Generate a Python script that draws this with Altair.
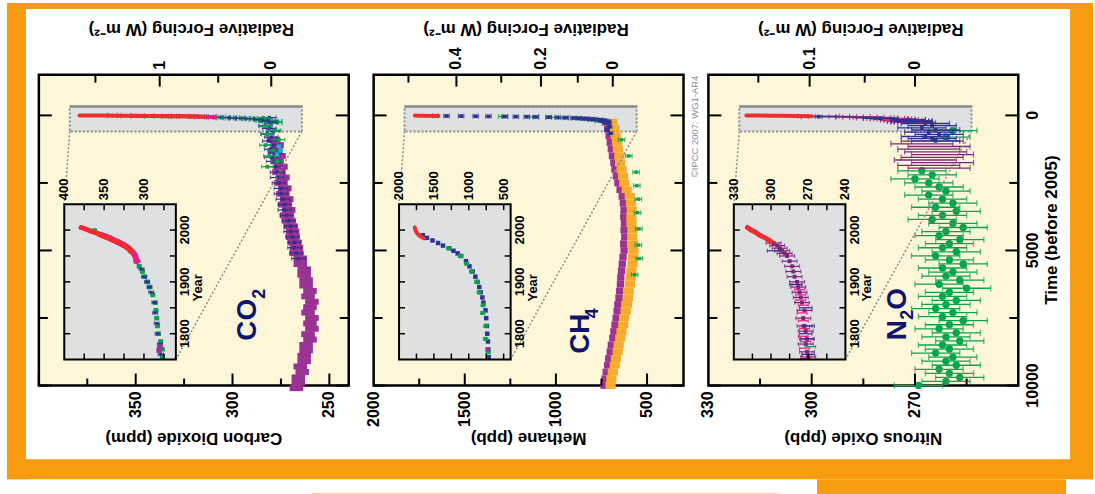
import altair as alt
import pandas as pd

# ------------------------------------------------------------------
# Values (time in years before 2005, or year AD)
# ------------------------------------------------------------------
# ---- CO2 (ppm) ----
co2_domec_t = [900, 1100, 1300, 1500, 1700, 1900, 2100, 2300, 2500, 2700, 2900, 3100, 3300, 3500, 3700,
               3900, 4100, 4300, 4500, 4700, 4900, 5100, 5300, 5500, 5700, 5900, 6100, 6300, 6500, 6700,
               6900, 7100, 7300, 7500, 7700, 7900, 8100, 8300, 8500, 8700, 8900, 9100, 9300, 9500, 9700,
               9900, 10100]
co2_domec_v = [279, 277, 278, 276, 277, 275, 276, 274, 275, 273, 274, 272, 273, 271, 272,
               271, 270, 269, 269, 268, 267, 267, 265, 265, 263, 263, 262, 262, 260, 261,
               259, 260, 261, 259, 260, 259, 261, 260, 262, 262, 263, 263, 265, 264, 266,
               266, 267]
co2_blue_t = [80, 180, 280, 380, 480, 580, 680, 800, 950, 1100, 1250, 1400, 1550, 1700, 1900, 2100,
              2300, 2500, 2700, 2900, 3100, 3300, 3500, 3700, 3900, 4100, 4300, 4500, 4700, 4900, 5100, 5300]
co2_blue_v = [281, 283, 280, 283, 281, 279, 282, 280, 281, 279, 280, 278, 280, 279, 278, 277,
              277, 276, 275, 275, 274, 273, 273, 272, 271, 270, 270, 269, 268, 268, 267, 266]
co2_green_t = [100, 250, 400, 550, 700, 900, 1100, 1300, 1500, 1700, 1900]
co2_green_v = [284, 279, 283, 278, 282, 276, 283, 279, 281, 277, 282]
co2_cyan_t = [1150, 1300, 1450]
co2_cyan_v = [276, 275, 277]
co2_red_year = [1958, 1962, 1966, 1970, 1974, 1978, 1982, 1986, 1990, 1994, 1998, 2002, 2005]
co2_red_v = [315, 318, 321, 325, 330, 335, 341, 347, 354, 359, 367, 373, 379]
co2_pink_year = [1940, 1950, 1955, 1960, 1965, 1970, 1975, 1980, 1985, 1990]
co2_pink_v = [309, 311, 313, 316, 319, 324, 330, 337, 344, 352]
co2_grn_year = [1755, 1770, 1785, 1800, 1815, 1830, 1845, 1860, 1875, 1890, 1900, 1910, 1920, 1930,
                1940, 1950, 1960, 1970, 1978, 1985, 1992, 1999]
co2_grn_v = [277, 277, 279, 282, 283, 284, 285, 286, 289, 293, 296, 299, 302, 306, 310, 311, 317, 325, 334,
             343, 355, 362]
co2_blu_year = [1760, 1780, 1800, 1820, 1840, 1860, 1880, 1890, 1900, 1910, 1925, 1940, 1965, 1975]
co2_blu_v = [279, 280, 283, 284, 286, 287, 291, 293, 296, 300, 303, 308, 320, 331]
co2_pur_year = [1768, 1775]
co2_pur_v = [281, 280]

# ---- CH4 (ppb) ----
ch4_t = [250, 500, 750, 1000, 1250, 1500, 1750, 2000, 2250, 2500, 2750, 3000, 3250, 3500, 3750, 4000,
         4250, 4500, 4750, 5000, 5250, 5500, 5750, 6000, 6250, 6500, 6750, 7000, 7250, 7500, 7750, 8000,
         8250, 8500, 8750, 9000, 9250, 9500, 9750, 10000]
ch4_amber_v = [690, 678, 672, 665, 660, 652, 648, 640, 632, 625, 612, 595, 588, 584, 586, 585,
               580, 581, 577, 575, 576, 579, 586, 590, 594, 601, 604, 610, 617, 626, 631, 640,
               647, 656, 661, 671, 677, 688, 696, 700]
ch4_purple_v = [728, 716, 708, 702, 696, 690, 682, 676, 668, 660, 648, 636, 630, 626, 628, 624,
                626, 622, 628, 626, 632, 636, 640, 644, 646, 650, 654, 660, 664, 670, 676, 682,
                688, 696, 702, 710, 716, 724, 730, 736]
ch4_green_t = [900, 1500, 2100, 2600, 3100, 3600, 4200, 4800, 5300, 5900]
ch4_green_v = [640, 600, 560, 556, 548, 552, 545, 548, 543, 568]
ch4_blue_t = [300, 420, 540, 660]
ch4_blue_v = [712, 705, 718, 700]
ch4_red_year = [1984, 1988, 1992, 1996, 2000, 2005]
ch4_red_v = [1645, 1695, 1730, 1750, 1765, 1774]
ch4_blu_year = [1755, 1770, 1785, 1800, 1815, 1830, 1845, 1860, 1870, 1880, 1890, 1900, 1910, 1920,
                1930, 1940, 1950, 1955, 1960, 1965, 1970, 1975, 1980, 1985, 1990]
ch4_blu_v = [715, 720, 725, 735, 740, 750, 760, 790, 805, 830, 850, 875, 905, 945,
             990, 1040, 1110, 1160, 1220, 1280, 1370, 1440, 1520, 1600, 1660]
ch4_grn_year = [1765, 1790, 1815, 1840, 1855, 1880, 1900, 1920, 1935, 1950, 1965]
ch4_grn_v = [720, 760, 755, 800, 795, 850, 885, 960, 1030, 1120, 1290]
ch4_pur_year = [1770]
ch4_pur_v = [730]

# ---- N2O (ppb) ----
n2o_green_t = [2050, 2200, 2350, 2500, 2650, 2800, 2950, 3100, 3250, 3400, 3550, 3700, 3850, 4000,
               4150, 4300, 4450, 4600, 4750, 4900, 5050, 5200, 5350, 5500, 5650, 5800, 5950, 6100,
               6250, 6400, 6550, 6700, 6850, 7000, 7150, 7300, 7450, 7600, 7750, 7900, 8050, 8200,
               8350, 8500, 8650, 8800, 8950, 9100, 9250, 9400, 9550, 9700, 9850, 10000, 560, 800]
n2o_green_v = [268, 265, 270, 266, 263, 261, 266, 262, 259, 264, 258, 262, 265, 259,
               256, 261, 263, 257, 260, 262, 258, 264, 260, 256, 262, 259, 261, 257,
               263, 255, 260, 262, 258, 261, 264, 259, 262, 256, 260, 263, 258, 261,
               257, 262, 260, 264, 259, 261, 258, 263, 260, 257, 261, 269, 259, 261]
n2o_dpur_t = [950, 1050, 1150, 1250, 1350, 1450, 1550, 1650, 1750, 1850, 1950]
n2o_dpur_v = [265, 268, 263, 266, 264, 262, 265, 267, 262, 266, 263]
n2o_blue_t = [300, 380, 460, 540, 620, 700, 780, 860, 940]
n2o_blue_v = [267, 265, 268, 264, 266, 263, 267, 265, 264]
n2o_red_year = [1978, 1984, 1990, 1995, 2000, 2005]
n2o_red_v = [300, 304, 309, 312, 316, 319]
n2o_pur_year = [1755, 1765, 1780, 1790, 1805, 1815, 1830, 1845, 1860, 1870, 1880, 1890, 1900, 1910,
                1920, 1930, 1940, 1950, 1955, 1960, 1965, 1970, 1975]
n2o_pur_v = [270, 271, 272, 271, 272, 273, 274, 273, 275, 276, 277, 278, 279, 281,
             282, 283, 285, 287, 289, 291, 293, 295, 298]
n2o_pink_year = [1752, 1760, 1772, 1785, 1795, 1810, 1825, 1840, 1855, 1865, 1875, 1885, 1895]
n2o_pink_v = [272, 271, 273, 272, 274, 273, 274, 275, 274, 276, 276, 277, 279]
n2o_blu_year = [1760, 1790, 1800, 1815, 1850, 1895, 1960]
n2o_blu_v = [270, 271, 272, 270, 272, 280, 298]
n2o_grn_year = [1775]
n2o_grn_v = [268]

# ---- axes: ticks and labels ----
time_major = [0, 5000, 10000]
time_minor = [2500, 7500]
time_labels = ["0", "5000", "10000"]
year_ticks = [1800, 1850, 1900, 1950, 2000]
year_labels = [1800, 1900, 2000]

co2_labels = [250, 300, 350]
co2_major = [250, 300, 350, 400]
co2_minor = [275, 325, 375]
co2_rf_major_at = [280, 337.6]          # concentration where RF = 0, 1
co2_rf_major_lab = ["0", "1"]
co2_rf_minor_at = [307.4, 370.8]         # RF = 0.5, 1.5
co2_inset_ticks = [275, 300, 325, 350, 375]
co2_inset_labels = [300, 350, 400]

ch4_labels = [500, 1000, 1500, 2000]
ch4_major = [500, 1000, 1500]
ch4_minor = [750, 1250, 1750]
ch4_rf_major_at = [688, 1082, 1546]     # RF = 0, 0.2, 0.4
ch4_rf_major_lab = ["0", "0.2", "0.4"]
ch4_rf_minor_at = [880, 1300, 1809]     # RF = 0.1, 0.3, 0.5
ch4_inset_ticks = [500, 750, 1000, 1250, 1500, 1750]
ch4_inset_labels = [500, 1000, 1500, 2000]

n2o_labels = [270, 300, 330]
n2o_major = [270, 300]
n2o_minor = [255, 285, 315]
n2o_rf_major_at = [270, 300.6]          # RF = 0, 0.1
n2o_rf_major_lab = ["0", "0.1"]
n2o_rf_minor_at = [284.6, 315.5]        # RF = 0.05, 0.15
n2o_inset_ticks = [255, 270, 285, 300, 315]
n2o_inset_labels = [240, 270, 300, 330]

# ------------------------------------------------------------------
# Styling / layout
# ------------------------------------------------------------------
FONT = "Liberation Sans"
NARROW = "Liberation Sans Narrow, Liberation Sans, sans-serif"
ORANGE = "#F99B0E"
CREAM = "#FDF6D8"
BOXGRAY = "#DFE0E2"
NAVY = "#0F136A"
RED = "#EE2D2F"
PINK = "#EC1A8A"
GREEN = "#07A44E"
BLUE = "#2F3192"
PURPLE = "#9A3393"
DPURPLE = "#7A2877"
CYAN = "#25AAE1"
AMBER = "#F7AA2B"

W, H = 311, 312
SPACING = 25
T_DOMAIN = [-1510, 10000]
YEAR_DOMAIN = [1750, 2050]
IL, IR, IT, IB = 25.5, 137.5, 130, 286          # inset box inside panel (px)
BX1, BX2, BY1, BY2 = 31, 264, 32, 57            # highlighted period box (px)
ONE = pd.DataFrame({"k": [0]})


def recent(years, vals):
    d = pd.DataFrame({"year": years, "v": vals})
    d["t"] = 2005 - d["year"]
    return d


def holo(ts, vals):
    return pd.DataFrame({"t": ts, "v": vals})


def X(f, s):
    return alt.X(f"{f}:Q", scale=s, axis=None)


def Y(f, s):
    return alt.Y(f"{f}:Q", scale=s, axis=None)


def blocks(data, yf, hx, hy, color, xs, ys):
    return (alt.Chart(data)
            .transform_calculate(lo=f"datum.v - {hx}", hi=f"datum.v + {hx}",
                                 tlo=f"datum.{yf} - {hy}", thi=f"datum.{yf} + {hy}")
            .mark_rect(color=color)
            .encode(x=X("lo", xs), x2="hi:Q", y=Y("tlo", ys), y2="thi:Q"))


def errbars(data, yf, err, color, xs, ys, width=1.2, cap=5, shape=None, size=0):
    base = alt.Chart(data).transform_calculate(lo=f"datum.v - {err}", hi=f"datum.v + {err}")
    out = [
        base.mark_rule(color=color, strokeWidth=width).encode(x=X("lo", xs), x2="hi:Q", y=Y(yf, ys)),
        base.mark_tick(color=color, orient="vertical", size=cap, thickness=width).encode(x=X("lo", xs), y=Y(yf, ys)),
        base.mark_tick(color=color, orient="vertical", size=cap, thickness=width).encode(x=X("hi", xs), y=Y(yf, ys)),
    ]
    if shape:
        out.append(alt.Chart(data).mark_point(shape=shape, filled=True, size=size, color=color, opacity=1)
                   .encode(x=X("v", xs), y=Y(yf, ys)))
    return out


def points(data, yf, color, xs, ys, shape="square", size=14):
    return alt.Chart(data).mark_point(shape=shape, filled=True, size=size, color=color, opacity=1).encode(
        x=X("v", xs), y=Y(yf, ys))


def line(data, yf, color, width, xs, ys):
    return alt.Chart(data).mark_line(color=color, strokeWidth=width, strokeCap="round").encode(
        x=X("v", xs), y=Y(yf, ys), order=f"{yf}:Q")


def vrect(x1, x2, y1, y2, **mk):
    return alt.Chart(ONE).mark_rect(**mk).encode(
        x=alt.value(x1), x2=alt.value(x2), y=alt.value(y1), y2=alt.value(y2))


def seg(x1, y1, x2, y2, **mk):
    return alt.Chart(ONE).mark_rule(**mk).encode(
        x=alt.value(x1), x2=alt.value(x2), y=alt.value(y1), y2=alt.value(y2))


def label(s, x, y, size, angle=0, align="center", baseline="middle", color="black",
          weight="bold", font=FONT):
    return alt.Chart(pd.DataFrame({"s": [s]})).mark_text(
        angle=angle, align=align, baseline=baseline, color=color, fontSize=size,
        fontWeight=weight, font=font).encode(text="s:N", x=alt.value(x), y=alt.value(y))


def vticks(values, xs, y0, y1, width=2):
    return alt.Chart(pd.DataFrame({"v": values})).mark_rule(color="black", strokeWidth=width).encode(
        x=X("v", xs), y=alt.value(y0), y2=alt.value(y1))


def hticks(values, ys, x0, x1, width=2):
    return alt.Chart(pd.DataFrame({"t": values})).mark_rule(color="black", strokeWidth=width).encode(
        y=Y("t", ys), x=alt.value(x0), x2=alt.value(x1))


def xlabels(values, texts, xs, y, align, size, font=FONT):
    return alt.Chart(pd.DataFrame({"v": values, "s": texts})).mark_text(
        angle=270, align=align, baseline="middle", font=font, fontSize=size, fontWeight="bold",
        color="black").encode(x=X("v", xs), y=alt.value(y), text="s:N")


def ylabels(values, texts, field, ys, x, size, font=FONT):
    return alt.Chart(pd.DataFrame({field: values, "s": texts})).mark_text(
        angle=270, align="center", baseline="top", font=font, fontSize=size, fontWeight="bold",
        color="black").encode(y=Y(field, ys), x=alt.value(x), text="s:N")


# ------------------------------------------------------------------
# Panel series
# ------------------------------------------------------------------
def co2_main(xs, ys):
    L = [blocks(holo(co2_domec_t, co2_domec_v), "t", 3.5, 110, PURPLE, xs, ys)]
    L += errbars(holo(co2_blue_t, co2_blue_v), "t", 3.5, BLUE, xs, ys, cap=4, shape="square", size=12)
    L += errbars(holo(co2_green_t, co2_green_v), "t", 3, GREEN, xs, ys, cap=4, shape="square", size=14)
    L.append(points(holo(co2_cyan_t, co2_cyan_v), "t", CYAN, xs, ys, size=18))
    L += errbars(recent(co2_grn_year, co2_grn_v), "t", 2.5, GREEN, xs, ys, cap=6, shape="square", size=12)
    L += errbars(recent(co2_blu_year, co2_blu_v), "t", 2, BLUE, xs, ys, cap=5)
    L.append(line(recent(co2_pink_year, co2_pink_v), "t", PINK, 4, xs, ys))
    L.append(line(recent(co2_red_year, co2_red_v), "t", RED, 4, xs, ys))
    return L


def co2_inset(xs, ys):
    L = []
    L += errbars(recent(co2_grn_year, co2_grn_v), "year", 2.5, GREEN, xs, ys, cap=3, shape="square", size=22)
    L += errbars(recent(co2_blu_year, co2_blu_v), "year", 3, BLUE, xs, ys, cap=4, shape="square", size=8)
    L.append(points(recent(co2_pur_year, co2_pur_v), "year", PURPLE, xs, ys, size=30))
    L.append(line(recent(co2_pink_year, co2_pink_v), "year", PINK, 6, xs, ys))
    L.append(line(recent(co2_red_year, co2_red_v), "year", RED, 5, xs, ys))
    return L


def ch4_main(xs, ys):
    L = [blocks(holo(ch4_t, ch4_purple_v), "t", 20, 125, PURPLE, xs, ys),
         blocks(holo(ch4_t, ch4_amber_v), "t", 28, 125, AMBER, xs, ys)]
    L += errbars(holo(ch4_green_t, ch4_green_v), "t", 18, GREEN, xs, ys, cap=5, shape="square", size=12)
    L += errbars(holo(ch4_blue_t, ch4_blue_v), "t", 12, BLUE, xs, ys, cap=4, shape="square", size=12)
    L += errbars(recent(ch4_grn_year, ch4_grn_v), "t", 25, GREEN, xs, ys, cap=5, shape="square", size=12)
    L += errbars(recent(ch4_blu_year, ch4_blu_v), "t", 15, BLUE, xs, ys, cap=5, shape="square", size=14)
    L.append(line(recent(ch4_red_year, ch4_red_v), "t", RED, 4, xs, ys))
    return L


def ch4_inset(xs, ys):
    L = []
    L += errbars(recent(ch4_blu_year, ch4_blu_v), "year", 15, BLUE, xs, ys, cap=3, shape="square", size=20)
    L += errbars(recent(ch4_grn_year, ch4_grn_v), "year", 30, GREEN, xs, ys, cap=4, shape="square", size=16)
    L.append(points(recent(ch4_pur_year, ch4_pur_v), "year", PURPLE, xs, ys, size=20))
    L.append(line(recent(ch4_red_year, ch4_red_v), "year", RED, 4, xs, ys))
    return L


def n2o_main(xs, ys):
    L = []
    L += errbars(holo(n2o_green_t, n2o_green_v), "t", 7, GREEN, xs, ys, width=1.3, cap=6, shape="circle", size=55)
    L += errbars(holo(n2o_dpur_t, n2o_dpur_v), "t", 9, DPURPLE, xs, ys, width=1.3, cap=6)
    L += errbars(holo(n2o_blue_t, n2o_blue_v), "t", 7, BLUE, xs, ys, width=1.3, cap=6, shape="square", size=14)
    L += errbars(recent(n2o_pur_year, n2o_pur_v), "t", 6, DPURPLE, xs, ys, cap=5)
    L += errbars(recent(n2o_pink_year, n2o_pink_v), "t", 4, PINK, xs, ys, cap=5)
    L += errbars(recent(n2o_blu_year, n2o_blu_v), "t", 5, BLUE, xs, ys, cap=5, shape="square", size=14)
    L.append(line(recent(n2o_red_year, n2o_red_v), "t", RED, 4, xs, ys))
    return L


def n2o_inset(xs, ys):
    L = []
    L += errbars(recent(n2o_pur_year, n2o_pur_v), "year", 6, DPURPLE, xs, ys, cap=4, shape="square", size=16)
    L += errbars(recent(n2o_pink_year, n2o_pink_v), "year", 4, PINK, xs, ys, cap=4)
    L += errbars(recent(n2o_blu_year, n2o_blu_v), "year", 5, BLUE, xs, ys, cap=4)
    L += errbars(recent(n2o_grn_year, n2o_grn_v), "year", 4, GREEN, xs, ys, cap=4)
    L.append(line(recent(n2o_red_year, n2o_red_v), "year", RED, 5, xs, ys))
    return L


PANELS = [
    dict(xdom=[240, 400], ixdom=[260, 400], labels=co2_labels, major=co2_major, minor=co2_minor,
         rf_at=co2_rf_major_at, rf_lab=co2_rf_major_lab, rf_minor=co2_rf_minor_at,
         iticks=co2_inset_ticks, ilabels=co2_inset_labels, title="Carbon Dioxide (ppm)",
         main=co2_main, inset=co2_inset,
         formula=[("CO", 210, 246, 28), ("2", 222, 220, 18)]),
    dict(xdom=[300, 2000], ixdom=[400, 2000], labels=ch4_labels, major=ch4_major, minor=ch4_minor,
         rf_at=ch4_rf_major_at, rf_lab=ch4_rf_major_lab, rf_minor=ch4_rf_minor_at,
         iticks=ch4_inset_ticks, ilabels=ch4_inset_labels, title="Methane (ppb)",
         main=ch4_main, inset=ch4_inset,
         formula=[("CH", 208, 260, 28), ("4", 220.5, 239.5, 18)]),
    dict(xdom=[240, 330], ixdom=[240, 330], labels=n2o_labels, major=n2o_major, minor=n2o_minor,
         rf_at=n2o_rf_major_at, rf_lab=n2o_rf_major_lab, rf_minor=n2o_rf_minor_at,
         iticks=n2o_inset_ticks, ilabels=n2o_inset_labels, title="Nitrous Oxide (ppb)",
         main=n2o_main, inset=n2o_inset,
         formula=[("N", 190, 256.5, 28), ("2", 200.5, 241, 18), ("O", 190, 225, 28)]),
]


def panel(cfg, idx):
    xs = alt.Scale(domain=cfg["xdom"], reverse=True, nice=False, zero=False)
    ys = alt.Scale(domain=T_DOMAIN, reverse=True, nice=False, zero=False)
    ixs = alt.Scale(domain=cfg["ixdom"], range=[IR, IL], nice=False, zero=False)
    iys = alt.Scale(domain=YEAR_DOMAIN, range=[IB, IT], nice=False, zero=False)

    main = []
    if idx == 0:
        # orange page frame (page coordinates relative to this panel's origin)
        main += [
            vrect(-32, 1058, -72, -66, color=ORANGE),
            vrect(-32, -13, -72, 406, color=ORANGE),
            vrect(1035, 1058, -72, 406, color=ORANGE),
            vrect(-32, 1058, 386, 406, color=ORANGE),
            vrect(781, 1031, 406, 422, color=ORANGE),
            vrect(274, 741, 420.5, 422, color=ORANGE),
        ]
    main += [
        vrect(BX1, BX2, BY1, BY2, fill=BOXGRAY, stroke="#8C8C8C", strokeWidth=2, strokeDash=[2, 2]),
        seg(BX1, BY1, BX2, BY1, color="#8C8C8C", strokeWidth=2.5),
    ]
    main += cfg["main"](xs, ys)
    main += [
        seg(BX1, BY2, IL, IT, color="#8C8C8C", strokeWidth=1.5, strokeDash=[2, 2]),
        seg(BX2, BY2, IR, IB, color="#8C8C8C", strokeWidth=1.5, strokeDash=[2, 2]),
        vticks(cfg["major"], xs, H, H - 12),
        vticks(cfg["minor"], xs, H, H - 7),
        vticks(cfg["rf_at"], xs, 0, 12),
        vticks(cfg["rf_minor"], xs, 0, 8),
        hticks(time_major, ys, 0, 13),
        hticks(time_minor, ys, 0, 9),
        hticks(time_major, ys, W, W - 13),
        hticks(time_minor, ys, W, W - 9),
        xlabels(cfg["labels"], [str(v) for v in cfg["labels"]], xs, H + 6, "right", 16),
        xlabels(cfg["rf_at"], cfg["rf_lab"], xs, -5, "left", 16),
        label("Radiative Forcing (W m⁻²)", 153, -38, 17, angle=180, baseline="top"),
        label(cfg["title"], W / 2, 373, 17, angle=180, baseline="top"),
    ]
    for txt, fx, fy, fs in cfg["formula"]:
        main.append(label(txt, fx, fy, fs, angle=270, color=NAVY))
    if idx == 1:
        main.append(label("©IPCC 2007: WG1-AR4", 323, 52, 9.5, angle=270, color="#8E8E8E",
                          weight="normal"))
    if idx == 2:
        main.append(ylabels(time_major, time_labels, "t", ys, W + 7, 16))
        main.append(label("Time (before 2005)", 337, 156, 17, angle=270, baseline="top"))

    inset = [vrect(IL, IR, IT, IB, fill=BOXGRAY)]
    inset += cfg["inset"](ixs, iys)
    inset += [
        vrect(IL, IR, IT, IB, fill=None, fillOpacity=0, stroke="black", strokeWidth=2),
        vticks(cfg["iticks"], ixs, IT, IT + 6, width=1.5),
        vticks(cfg["iticks"], ixs, IB, IB - 6, width=1.5),
        alt.Chart(pd.DataFrame({"year": year_ticks})).mark_rule(color="black", strokeWidth=1.5).encode(
            y=Y("year", iys), x=alt.value(IL), x2=alt.value(IL + 6)),
        alt.Chart(pd.DataFrame({"year": year_ticks})).mark_rule(color="black", strokeWidth=1.5).encode(
            y=Y("year", iys), x=alt.value(IR), x2=alt.value(IR - 6)),
        xlabels(cfg["ilabels"], [str(v) for v in cfg["ilabels"]], ixs, IT - 4, "left", 13, font=NARROW),
        ylabels(year_labels, [str(v) for v in year_labels], "year", iys, IR + 3.5, 13, font=NARROW),
        label("Year", IR + 16, 214, 13, angle=270, baseline="top", font=NARROW),
    ]
    return (alt.layer(alt.layer(*main), alt.layer(*inset))
            .resolve_scale(x="independent", y="independent")
            .properties(width=W, height=H))


chart = (alt.hconcat(*[panel(c, i) for i, c in enumerate(PANELS)], spacing=SPACING, bounds="flush")
         .properties(background="white", padding={"left": 5, "top": 0, "right": 0, "bottom": 0})
         .configure_view(fill=CREAM, stroke="black", strokeWidth=2.5))

chart.save("out.html", embed_options={"renderer": "svg", "actions": False})
